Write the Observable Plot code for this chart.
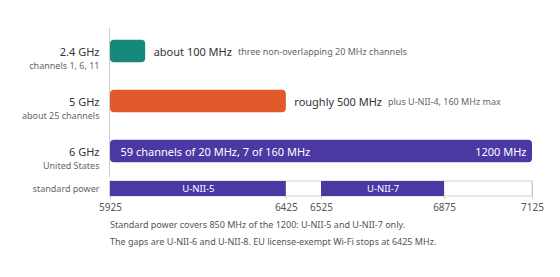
<!DOCTYPE html>
<html>
<head>
<meta charset="utf-8">
<script src="https://cdn.jsdelivr.net/npm/d3@7"></script>
<script src="https://cdn.jsdelivr.net/npm/@observablehq/plot@0.6"></script>
<style>
  html, body { margin: 0; padding: 0; background: #fff; }
  #chart { width: 560px; font-family: "Noto Sans", sans-serif; }
  #chart svg { display: block; }
  .note { padding-left: 110px; font-size: 9px; line-height: 17px; color: #555; }
</style>
</head>
<body>
<div id="chart"></div>
<script>
// ---- data ----
const bands = ["2.4 GHz", "5 GHz", "6 GHz"];
const bandSubtitles = ["channels 1, 6, 11", "about 25 channels", "United States"];
const bandwidthMHz = [100, 500, 1200];
const bandColors = ["#16897b", "#e0592b", "#4b38a3"];
const headlines = ["about 100 MHz", "roughly 500 MHz", null];
const details = ["three non-overlapping 20 MHz channels", "plus U-NII-4, 160 MHz max", null];
const insideLeft = "59 channels of 20 MHz, 7 of 160 MHz";
const insideRight = "1200 MHz";

const rangeStart = 5925;
const rangeEnd = 7125;
const stdRowLabel = "standard power";
const stdNames = ["U-NII-5", "U-NII-7"];
const stdStarts = [5925, 6525];
const stdEnds = [6425, 6875];
const tickValues = [5925, 6425, 6525, 6875, 7125];
const notes = [
  "Standard power covers 850 MHz of the 1200: U-NII-5 and U-NII-7 only.",
  "The gaps are U-NII-6 and U-NII-8. EU license-exempt Wi-Fi stops at 6425 MHz."
];

// ---- tables ----
const rows = bands.map((b, i) => ({
  band: b, sub: bandSubtitles[i], bw: bandwidthMHz[i], color: bandColors[i],
  headline: headlines[i], detail: details[i]
}));
const std = stdNames.map((n, i) => ({ name: n, start: stdStarts[i], end: stdEnds[i] }));

const FONT = "Noto Sans";
const ctx = document.createElement("canvas").getContext("2d");
function measure(text, size) { ctx.font = `${size}px "${FONT}"`; return ctx.measureText(text).width; }

const xScale = { domain: [rangeStart, rangeEnd] };
const purple = bandColors[2];
const lineColor = "#cfcfcf";

const topPlot = Plot.plot({
  width: 560, height: 177,
  marginTop: 25, marginBottom: 0, marginLeft: 110, marginRight: 28,
  style: { fontFamily: FONT, background: "transparent" },
  x: { ...xScale, axis: null },
  y: { domain: bands, axis: null, padding: 0 },
  color: { type: "identity" },
  marks: [
    Plot.ruleX([rangeStart], { stroke: lineColor, dx: -1, insetTop: 3 }),
    Plot.ruleX(rows.filter(d => d.bw === rangeEnd - rangeStart), { x: () => rangeEnd, y: "band", insetTop: 25, stroke: lineColor }),
    Plot.barX(rows, { x1: () => rangeStart, x2: d => rangeStart + d.bw, y: "band", fill: "color", insetTop: 13.8, insetBottom: 13.8, rx: 4 }),
    Plot.text(rows, { x: () => rangeStart, y: "band", text: "band", textAnchor: "end", dx: -11, dy: 0.5, fontSize: 11, fill: "#333" }),
    Plot.text(rows, { x: () => rangeStart, y: "band", text: "sub", textAnchor: "end", dx: -11, dy: 14.5, fontSize: 9, fill: "#666" }),
    Plot.text(rows.filter(d => d.headline), { x: d => rangeStart + d.bw, y: "band", text: "headline", textAnchor: "start", dx: 8, dy: 0.5, fontSize: 11, fill: "#333" }),
    ...rows.filter(d => d.detail).map(d =>
      Plot.text([d], { x: r => rangeStart + r.bw, y: "band", text: "detail", textAnchor: "start", dx: 8 + measure(d.headline, 11) + 6, dy: 0.5, fontSize: 9, fill: "#666" })
    ),
    Plot.text(rows.filter(d => !d.headline), { x: () => rangeStart, y: "band", text: () => insideLeft, textAnchor: "start", dx: 10, dy: 0.5, fontSize: 11, fill: "white" }),
    Plot.text(rows.filter(d => !d.headline), { x: () => rangeEnd, y: "band", text: () => insideRight, textAnchor: "end", dx: -6, dy: 0.5, fontSize: 11, fill: "white" })
  ]
});

const bottomPlot = Plot.plot({
  width: 560, height: 39,
  marginTop: 4, marginBottom: 20, marginLeft: 110, marginRight: 28,
  style: { fontFamily: FONT, background: "transparent" },
  x: xScale,
  y: { domain: [stdRowLabel], axis: null, padding: 0 },
  marks: [
    Plot.ruleX([rangeStart], { stroke: lineColor, dx: -1 }),
    Plot.ruleX([rangeEnd], { stroke: lineColor }),
    Plot.barX([stdRowLabel], { x1: () => rangeStart, x2: () => rangeEnd, y: d => d, fill: "white", stroke: lineColor }),
    Plot.barX(std, { x1: "start", x2: "end", y: () => stdRowLabel, fill: purple }),
    Plot.text(std, { x: d => (d.start + d.end) / 2, y: () => stdRowLabel, text: "name", fill: "white", fontSize: 9.5 }),
    Plot.text([stdRowLabel], { x: () => rangeStart, y: d => d, text: d => d, textAnchor: "end", dx: -11, fontSize: 9, fill: "#666" }),
    Plot.axisX(tickValues, { tickFormat: d => String(d), tickSize: 3, tickPadding: 4, stroke: lineColor, fill: "#555", fontSize: 10, label: null })
  ]
});

const chart = document.getElementById("chart");
chart.append(topPlot, bottomPlot);
for (const n of notes) {
  const p = document.createElement("div");
  p.className = "note";
  p.textContent = n;
  chart.append(p);
}
</script>
</body>
</html>
